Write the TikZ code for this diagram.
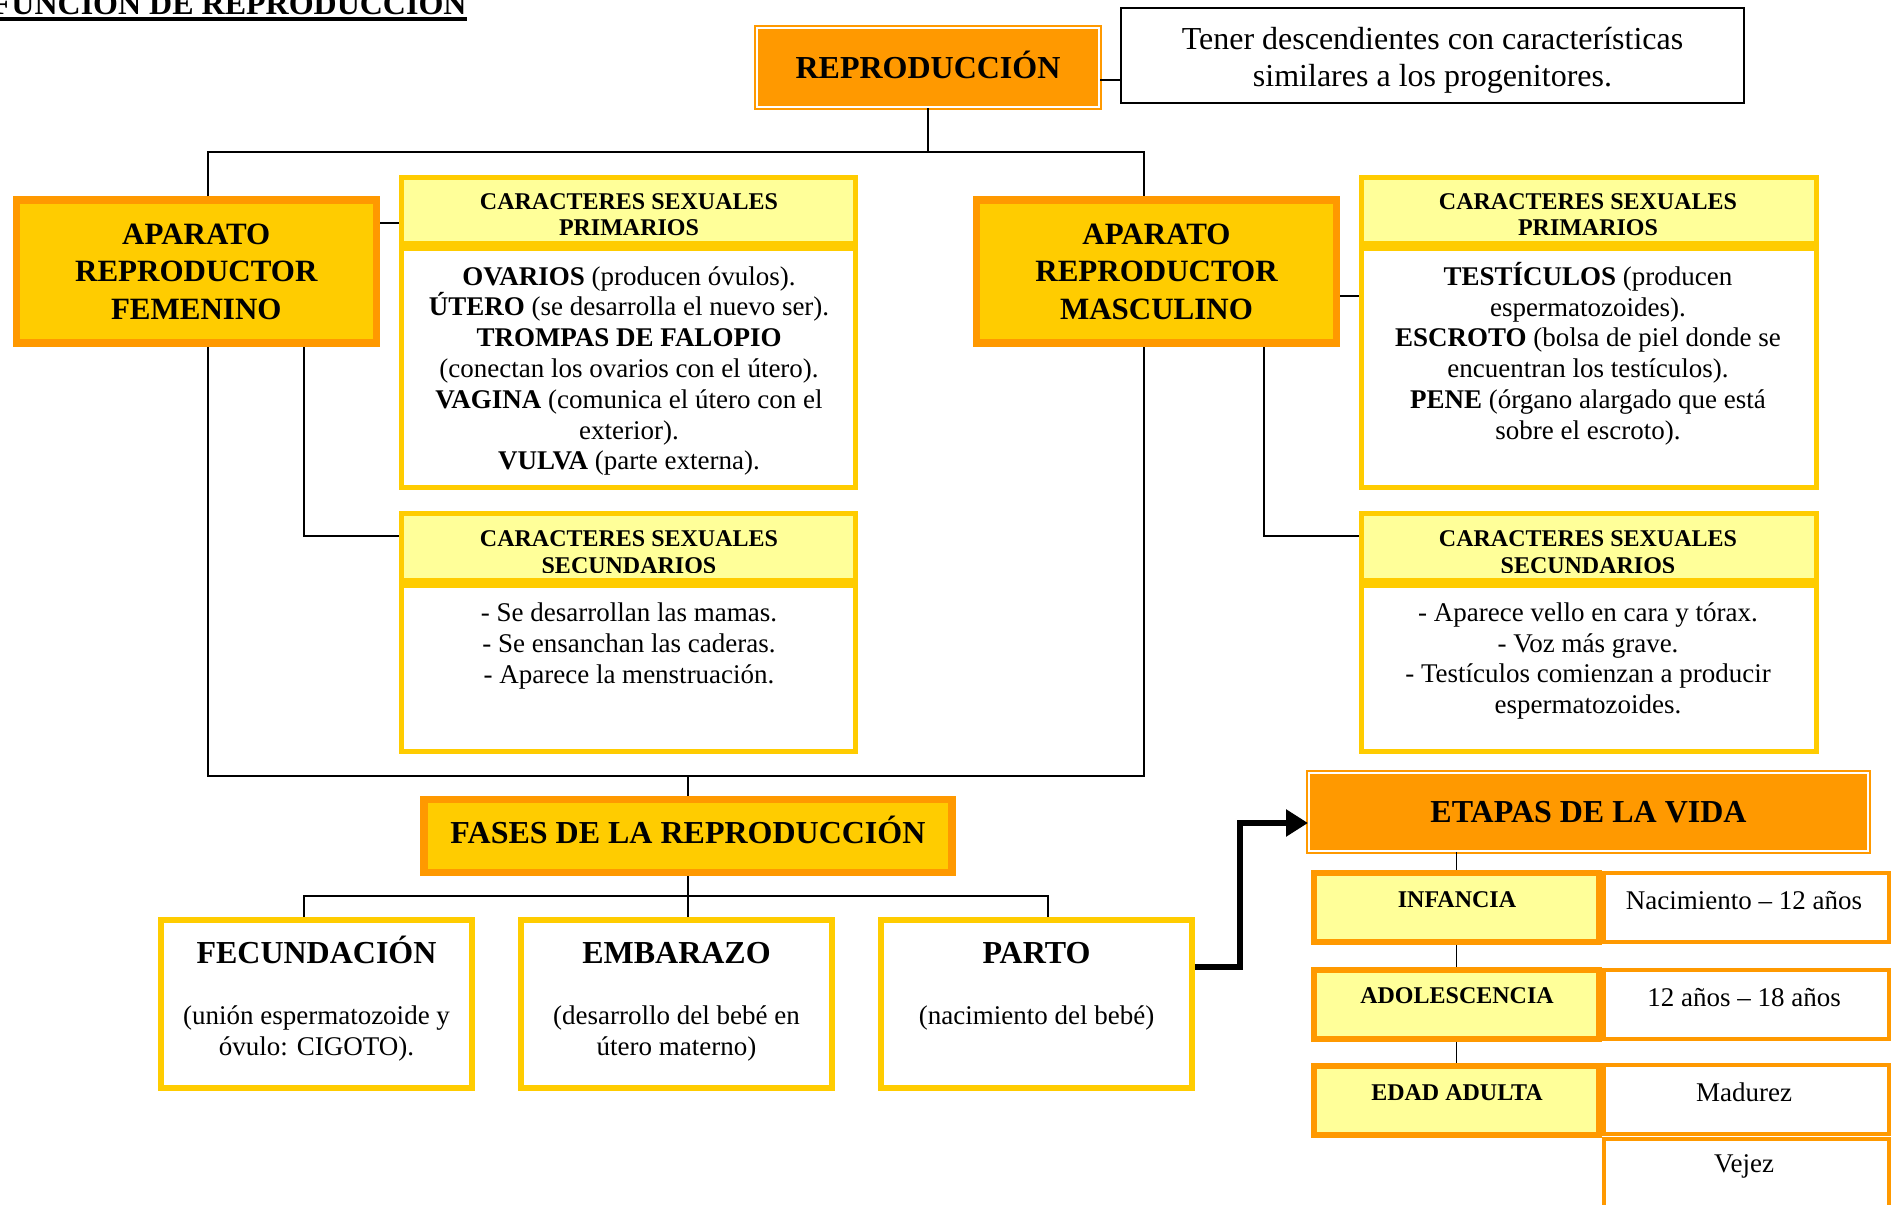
\documentclass[tikz,border=0pt]{standalone}
\usepackage{fontspec}
\setmainfont{Liberation Serif}
\usetikzlibrary{arrows.meta,positioning}

\newlength{\du}
\setlength{\du}{0.5pt}

\definecolor{naranja}{RGB}{255,153,0}
\definecolor{oro}{RGB}{255,204,0}
\definecolor{crema}{RGB}{255,255,153}

\tikzset{
  caja/.style={inner sep=0pt, align=center},
  doble/.style={caja, draw=naranja, double=white, double distance=2\du, line width=2\du, fill=naranja,
    font=\bfseries\fontsize{16}{19}\selectfont, text height=21\du, text depth=0pt},
  aparato/.style={caja, draw=naranja, line width=7.5\du, fill=oro, font=\bfseries\fontsize{15.5}{18.75}\selectfont},
  cabecera/.style={caja, draw=oro, line width=5\du, fill=crema},
  cuerpo/.style={caja, draw=oro, line width=5\du, fill=white},
  fasebox/.style={caja, draw=oro, line width=6\du, fill=white},
  etapa/.style={caja, draw=naranja, line width=6\du, fill=crema},
  edad/.style={caja, draw=naranja, line width=4\du, fill=white},
  nota/.style={caja, draw=black, line width=2\du, fill=white},
  texto/.style={inner sep=0pt, align=center, font=\fontsize{13.5}{15.4}\selectfont},
  negrita/.style={inner sep=0pt, align=center, font=\bfseries\fontsize{12}{13}\selectfont},
  grande/.style={inner sep=0pt, font=\bfseries\fontsize{16}{19}\selectfont},
  linea/.style={draw=black, line width=1.8\du},
  tramo/.style={draw=black, line width=2.5\du},
  flecha/.style={draw=black, line width=3.2pt, -{Stealth[length=11pt,width=13pt,inset=0pt]}},
}

\begin{document}
\begin{tikzpicture}[x=\du, y=-\du]
\useasboundingbox (0,0) rectangle (1892,1205);

% titulo
\node[grande, anchor=base east] (titulo) at (467,14) {FUNCIÓN DE REPRODUCCIÓN};
\draw[line width=3.5\du] ([yshift=-5\du]titulo.base west) -- ([yshift=-5\du]titulo.base east);

% reproduccion
\node[doble, minimum width=342\du, minimum height=79\du] (repro) at (928,67.5) {REPRODUCCIÓN};
\node[nota, minimum width=623\du, minimum height=95\du] (fin) at (1432.5,55.5) {};
\node[inner sep=0pt, align=center, font=\fontsize{16}{18.5}\selectfont] (tfin) at (1432.5,60)
  {Tener descendientes con características\\similares a los progenitores.};
\coordinate (rst) at (1110,80);
\draw[tramo] (repro.east |- rst) -- (fin.west |- rst);

% aparatos
\node[aparato, minimum width=360\du, minimum height=143\du] (afem) at (196.3,271.5) {APARATO\\REPRODUCTOR\\FEMENINO};
\node[aparato, minimum width=360\du, minimum height=143\du] (amasc) at (1156.5,271.5) {APARATO\\REPRODUCTOR\\MASCULINO};

% caracteres femeninos
\node[cabecera, minimum width=454\du, minimum height=66\du] (fprim) at (628.5,210.5) {};
\node[cuerpo, minimum width=454\du, minimum height=239\du] (fprimc) at (628.5,368) {};
\node[cabecera, minimum width=454\du, minimum height=67\du] (fsec) at (628.5,547) {};
\node[cuerpo, minimum width=454\du, minimum height=166\du] (fsecc) at (628.5,668.5) {};

% caracteres masculinos
\node[cabecera, minimum width=455\du, minimum height=66\du] (mprim) at (1589,210.5) {};
\node[cuerpo, minimum width=455\du, minimum height=239\du] (mprimc) at (1589,368) {};
\node[cabecera, minimum width=455\du, minimum height=67\du] (msec) at (1589,547) {};
\node[cuerpo, minimum width=455\du, minimum height=166\du] (msecc) at (1589,668.5) {};

\node[negrita] (tfprim) at (629,215) {CARACTERES SEXUALES\\PRIMARIOS};
\node[negrita] (tmprim) at (1588,215) {CARACTERES SEXUALES\\PRIMARIOS};
\begin{scope}
\clip (399,511) rectangle (1819,572);
\node[negrita, font=\bfseries\fontsize{12}{13.5}\selectfont] (tfsec) at (629,552) {CARACTERES SEXUALES\\SECUNDARIOS};
\node[negrita, font=\bfseries\fontsize{12}{13.5}\selectfont] (tmsec) at (1588,552) {CARACTERES SEXUALES\\SECUNDARIOS};
\end{scope}

\node[texto] (tfprimc) at (629,371) {\textbf{OVARIOS} (producen óvulos).\\\textbf{ÚTERO} (se desarrolla el nuevo ser).\\\textbf{TROMPAS DE FALOPIO}\\(conectan los ovarios con el útero).\\\textbf{VAGINA} (comunica el útero con el\\exterior).\\\textbf{VULVA} (parte externa).};
\node[texto] (tmprimc) at (1588,353.5) {\textbf{TESTÍCULOS} (producen\\espermatozoides).\\\textbf{ESCROTO} (bolsa de piel donde se\\encuentran los testículos).\\\textbf{PENE} (órgano alargado que está\\sobre el escroto).};
\node[texto] (tfsecc) at (629,646) {- Se desarrollan las mamas.\\- Se ensanchan las caderas.\\- Aparece la menstruación.};
\node[texto] (tmsecc) at (1588,661) {- Aparece vello en cara y tórax.\\- Voz más grave.\\- Testículos comienzan a producir\\espermatozoides.};

% conexiones de arriba
\coordinate (bus1) at (208,152);
\coordinate (bus2) at (1144,152);
\draw[linea] (repro.south) -- (repro.south |- bus1);
\draw[linea] (afem.north -| bus1) -- (bus1) -- (bus2) -- (amasc.north -| bus2);
\coordinate (fst) at (390,223);
\draw[tramo] (afem.east |- fst) -- (fprim.west |- fst);
\coordinate (mst) at (1350,296);
\draw[tramo] (amasc.east |- mst) -- (mprimc.west |- mst);
\coordinate (fsc) at (304,536);
\coordinate (msc) at (1264,536);
\draw[tramo] (afem.south -| fsc) -- (fsc) -- (fsec.west |- fsc);
\draw[tramo] (amasc.south -| msc) -- (msc) -- (msec.west |- msc);
\coordinate (bus3) at (208,776);
\coordinate (bus4) at (1144,776);
\draw[tramo] (afem.south -| bus3) -- (bus3) -- (bus4) -- (amasc.south -| bus4);

% fases
\node[aparato, font=\bfseries\fontsize{16}{19}\selectfont, text height=21\du, text depth=6\du,
  minimum width=528\du, minimum height=73\du] (fases) at (688,836) {FASES DE LA REPRODUCCIÓN};
\draw[linea] (fases.north) -- (fases.north |- bus3);

\node[fasebox, minimum width=311\du, minimum height=168\du] (fecund) at (316.5,1004) {};
\node[fasebox, minimum width=311\du, minimum height=168\du] (embarazo) at (676.5,1004) {};
\node[fasebox, minimum width=311\du, minimum height=168\du] (parto) at (1036.5,1004) {};
\node[grande, anchor=base] (tfec) at (316.5,963) {FECUNDACIÓN};
\node[grande, anchor=base] (temb) at (676.5,963) {EMBARAZO};
\node[grande, anchor=base] (tpar) at (1036.5,963) {PARTO};
\node[texto, font=\fontsize{13.5}{15.5}\selectfont] (dfec) at (316.5,1033) {(unión espermatozoide y\\óvulo: CIGOTO).};
\node[texto, font=\fontsize{13.5}{15.5}\selectfont] (demb) at (676.5,1033) {(desarrollo del bebé en\\útero materno)};
\node[texto, anchor=base] (dpar) at (1036.5,1024) {(nacimiento del bebé)};

\coordinate (pb1) at (304,896);
\coordinate (pb3) at (1048,896);
\draw[linea] (fases.south) -- (fases.south |- pb1);
\draw[tramo] (fecund.north -| pb1) -- (pb1) -- (pb3) -- (parto.north -| pb3);
\draw[linea] (fases.south |- pb1) -- (embarazo.north -| fases.south);

% etapas de la vida
\node[doble, minimum width=559\du, minimum height=78\du] (etapas) at (1588.5,812) {ETAPAS DE LA VIDA};
\coordinate (fl1) at (1240,967);
\coordinate (fl2) at (1240,823);
\draw[flecha] (parto.east |- fl1) -- (fl1) -- (fl2) -- (etapas.west |- fl2);

\node[edad, minimum width=285\du, minimum height=69\du] (dinf) at (1746.5,907.5) {};
\node[edad, minimum width=285\du, minimum height=69\du] (dado) at (1746.5,1004.5) {};
\node[edad, minimum width=285\du, minimum height=69\du] (dmad) at (1746.5,1099.5) {};
\node[edad, minimum width=285\du, minimum height=75\du] (dvej) at (1746.5,1176) {};
\node[etapa, minimum width=285\du, minimum height=69\du] (inf) at (1456.5,907.5) {};
\node[etapa, minimum width=285\du, minimum height=69\du] (ado) at (1456.5,1004.5) {};
\node[etapa, minimum width=285\du, minimum height=69\du] (adu) at (1456.5,1100.5) {};

\node[negrita, anchor=base] (tinf) at (1457,907) {INFANCIA};
\node[negrita, anchor=base] (tado) at (1457,1003) {ADOLESCENCIA};
\node[negrita, anchor=base] (tadu) at (1457,1100) {EDAD ADULTA};
\node[texto, anchor=base] (tdinf) at (1744,909) {Nacimiento – 12 años};
\node[texto, anchor=base] (tdado) at (1744,1006) {12 años – 18 años};
\node[texto, anchor=base] (tdmad) at (1744,1101) {Madurez};
\node[texto, anchor=base] (tdvej) at (1744,1172) {Vejez};

\draw[linea] (etapas.south -| inf.north) -- (inf.north);
\draw[linea] (inf.south) -- (ado.north);
\draw[linea] (ado.south) -- (adu.north);
\end{tikzpicture}
\end{document}
